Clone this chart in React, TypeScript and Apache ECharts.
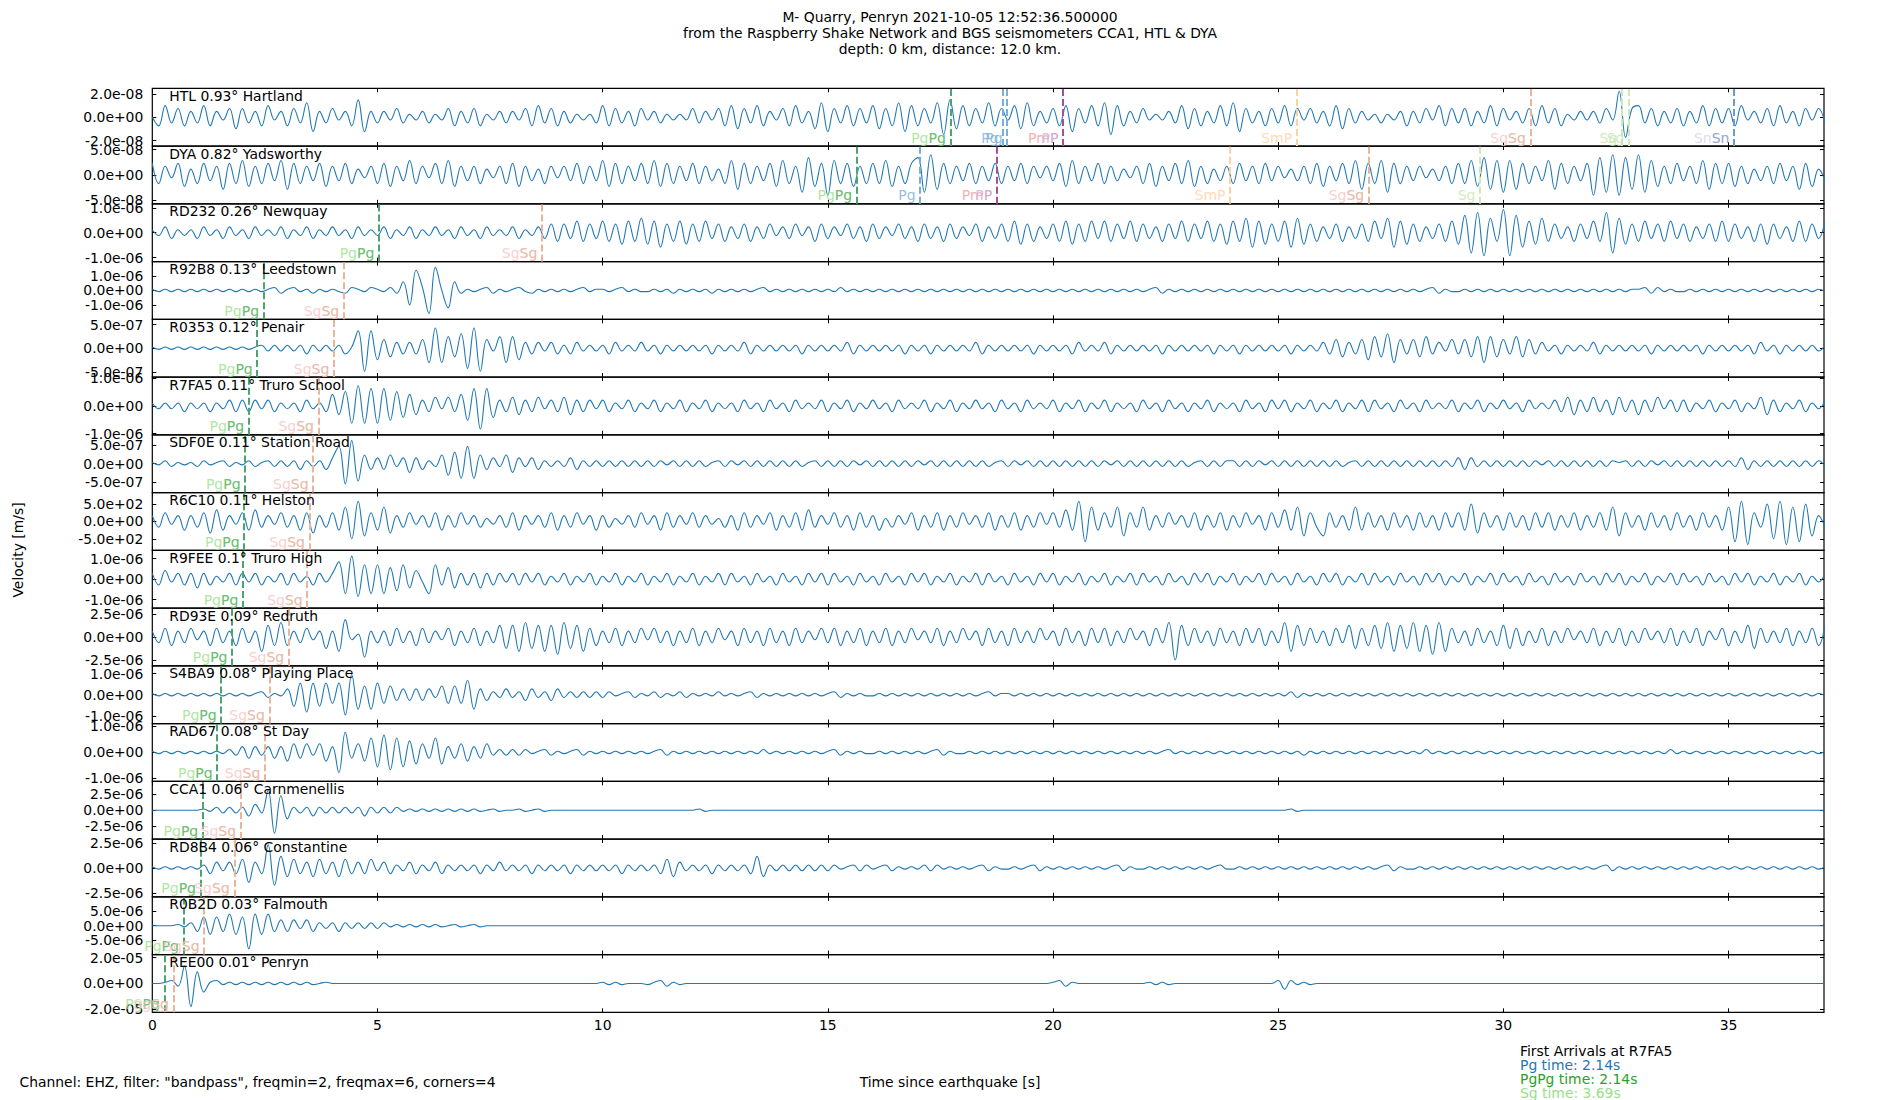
import React, { useEffect, useRef } from "react";
import * as echarts from "echarts";

// ---------------- DATA ----------------
const stationCodes = ["HTL", "DYA", "RD232", "R92B8", "R0353", "R7FA5", "SDF0E", "R6C10", "R9FEE", "RD93E", "S4BA9", "RAD67", "CCA1", "RD8B4", "R0B2D", "REE00"];
const stationDistances = ["0.93", "0.82", "0.26", "0.13", "0.12", "0.11", "0.11", "0.11", "0.1", "0.09", "0.08", "0.08", "0.06", "0.06", "0.03", "0.01"];
const stationPlaces = ["Hartland", "Yadsworthy", "Newquay", "Leedstown", "Penair", "Truro School", "Station Road", "Helston", "Truro High", "Redruth", "Playing Place", "St Day", "Carnmenellis", "Constantine", "Falmouth", "Penryn"];
// labelled y tick value of each panel
const tickValues = [2e-8, 5e-8, 1e-6, 1e-6, 5e-7, 1e-6, 5e-7, 500, 1e-6, 2.5e-6, 1e-6, 1e-6, 2.5e-6, 2.5e-6, 5e-6, 2e-5];
// y limit of each panel as a multiple of its tick value
const axisLimitRatio = [1.235, 1.14, 1.16, 1.99, 1.22, 1.04, 1.54, 1.65, 1.41, 1.26, 1.37, 1.11, 1.84, 1.16, 1.99, 1.12];
const xTicks = [0, 5, 10, 15, 20, 25, 30, 35];
const timeMax = 37.12;
const sampleInterval = 1 / 7; // seconds between samples of the traces below

// traces: one char per sample, level in tenths of the panel limit
// '0'-'9' => 0..9, 'a'-'i' => -1..-9, '+' => 0.4, '-' => -0.4
const traceHTL = `
0c4b3c2 b4c2a3d 3b2c4a2 c3b5e2b 3a2c6e2 b2a3b1a 2b1a3c2 b3c1a2b 2a3c4b3 c2b1a1b
4c3b2c3 a2b1a1a 3b2a3c4 d3b4c2a 3c4b2d5 e3b4c3b 4d3c5e4 c3b5f6d 4c3b5c3 a4d5c2b
3c4e3b4 c5f4c2b 3a1a2b4 d3c2b4c 5e3b2c3 b4c3a3b 2c4d3b2 a1b1a2c 2b3a4c3 b3c2b4c
3a2b3c4 b3c1a2a 2b3a9g3 4b3c2b3 c2b4c3b 3c4a2b3 c4b2c3a 3b`;
const traceDYA = `
4c3a4d2 c4b3e4c 5d3c4b5 e4c3b4d 3b4c2a3 c4d3b5c 3a4c5d3 b3c2a3c 4d3b2c3 a3b4c3b
5d4c3b4 c5d4c3b 4c3b2c5 e4c3b4d 5c3f6d4 g5c4d3c 4c5d3c4 6f7e4c3 b4c3b4c 3b4c3a3
b4d5c3b 4c3b2a3 c4d3b4c 5d3c2b3 c4b3c4b 3a2b3c4 d3b4c5e 4c5f4c3 b3a2b3c 4c5d6e5
f5e4c3b 5e4c3b4 g6f7g6e 7f5d3c4 b3c5e4c 4d3c2b3 c4b3e4d 2b`;
const traceRD232 = `
1a2b1a1 b2a1b2a 1b2a1a2 b1a2b1a 2a1b2a1 a2b1a2b 1a2a1b2 a1b2a1a 2b1a2b3 c3b4c3b
4c3d4c5 d4e3c4d 3c4b3c2 b3c2b3a 2b3a2c3 b2a3b2c 3b2a3b2 c3b2c3b 2a3c2b3 c4d3c2b
3c4d3c4 b4c3b4c 3b2c3b4 c3b4c3d 4c5e4d3 c4e5d3c 2b3c2b3 c4b5e4d 3c2b3c4 d6g7h5c
8h6e4d5 c3b2c3b 4c7g5d3 c4b3c4b 3c2b3c4 c3b2c3d 3b2c4c3 b4`;
const traceR92B8 = `
+-+-+-+ -+-+-+- +-+-+1a +1-+a+- +-a1+-1 +-1a3e7 1h80f3a +-+1a+- +1-a+-+ -+-+1-+
+-+1-+- -+-+a+- +-+a+-+ -+-+1-+ -+-+-+- +-1-+-+ -+-+-+- +-+-+-+ -+-+-+- +-+-+-+
-+-+-+- +-+-+-+ -+1a+-+ -+-+-+- +-+-+-+ -+-+-+- +-+-+-+ -+-+-+- +-+1a+- -+-+-+-
+-+-+-+ -+-+-+- +-+-+-+ +1a1-+- -+-+-+- +-+-+-+ -+-+-+- +-`;
const traceR0353 = `
+-+-+-+ -+-+-+- +-+1a1a 1a1b1a1 a1b+6h6 d3c2b2b 3e7e4c5 g7h3a4e 4d2b2a2 b1b2a1a
1b2a1a2 a1b1a1a 1a1b1a1 a2b1a1a 1a1b1a1 a1a2b1a 1a1a1b1 a1b1a1a 1a2b1a1 a1a1b1a
1a1b2a1 a2b1a1a 1a1b1a1 a1a1b1a 1b1a1a1 a1b1a1a 2b3c2b3 d4c5e3b 3c4b2a3 b3c4e4c
3b4c3b2 a1b1a1a 2b1a1a1 a1b1a1a 1a1b1a1 a1a1b2a 1b1a1a1 a1`;
const traceR7FA5 = `
1a1a1b1 a1b1a2b 2b2a2b1 a1b2a1b 4c5f7f6 f6e5d4c 2b3a3b4 e6h6d2b 3c2b3a2 b3c2b2a
2b1a2b1 a2b1a2b 1a2b1a1 b2a1b2a 1b2a1a2 b1a2b1a 2a1b2a1 a2b1a2b 1a2a1b2 a1b2a1a
2b1a2b1 a2b1a1b 2a1b2a1 b1a2b1a 1b2a1b2 a2b1a2b 1a2b1a2 b2a1b2a 1b2a1a2 b1a2b1a
2a1b2a1 a2b3c2b 3b2c3b2 c2b3a2b 2b1a2b1 a2b1a3c 2b1a2b1 a2`;
const traceSDF0E = `
+-1a+-+ a1-+1a+ -1a+1a1 a1b1a1b 26g8f3b 2b3a2c2 b1a3d4e 6e3b2a3 c2a2b1a 1a2b1a1
a1a1a1a 1a1-1a1 a1a+1a1 -1a1a1a 1a1a+1a 1a1a1-1 a1a1a1a 1-1a1a1 a1a1a+1 a1-1a1a
1a1a1a1 a1-1a1a 1a1a1a1 a+1a1a1 1a1a1-1 a1a1a1a 1a1a+1a 1a1a1a1 a1a1a1a 2b2a1a1
a1a1a1- 1a1a1a1 a1a1+1a 1a1-1a1 a1a1a1a 1a2b1a1 a1a1a1a 1a`;
const traceR6C10 = `
2b3a2c2 b3d4c2a 3c4b2a3 b2c3d2b 3c5f7e3 c5d2b3a 2b3c2b3 a2b1a2b 3c2a2b3 c2b3a2c
2b1a2b3 a2c3b2a 3b2a1b2 c3b2a3c 2b3c4b2 a3b2c3b 2c1b2a3 c2b3c2b 3a2b3c2 b3c2b3a
3b4c7g5 c3b5e3b 5c2b3a2 b3c2b3c 2b3a2c3 b4c5e3b e3b2c5c 3b2c3b2 c3b2c3b 3c6d3b2
c3b2c3b 3c2b3c2 b3c5e3b 2c3b2c3 b2c3b2c 5g7h3b6 f7h5g6e 2b`;
const traceR9FEE = `
2b3a2b2 c2b1a2b 2a2b1a2 b2a1b2a 26e8f5e 5e4d5c3 ae5b4c2 b2c2b2a 2b2a2b1 a2b1a2b
1a2b1a2 b1a2b1a 2b1a2b2 a1b2a1b 2a1b2a2 b2a1b2a 1b2a1b2 a2b1a2b 1a2b2a1 b2a1b2a
2b1a2b1 a2b1a2b 2a1b2a1 b2a2b1a 2b1a2b2 a1b2a1b 2a2b1a2 b2a1b2a 1b2a2b1 a2b1a2b
2a1b2a1 b2a1b2a 1b2a2b1 a2b1a2b 2a1b2a1 b2a2b1a 2b1a2b1 a2`;
const traceRD93E = `
2b3c2b3 a2c3b2c 3b2e4c5 c2b3a2d 2e6a1g2 b2c3b2c 3b2a3c2 b3c2b4d 4e5d4e4 f5d4e3c
2b3c2b3 a3b2c2b 3c2b3a2 c3b2c3b 2c3b2a3 b3c2b3c 2b3c2b3 a2b3c2b 3a2c3b2 c3b2b3a
2c3b2c3 b3c2b3a 2c3b5h4 c3b2c3b 2c3b3c2 b5e4c3b 2c3b4d3 c4d5e4d 5e4f5e3 b2c3b2c
4d3c2b3 c2b3a2b 3c2b3c2 b3a2b3c 2b3c2a3 c2b4d3b 2b3c2b3 c4`;
const traceS4BA9 = `
+-+-+-+ -+-+-+- +-+1a+- 2d4f4d4 c4g7e3e 4c3b2b2 b2a3c3c 5e2b1a2 a1b2a1b 2a1a1a1
a1-+1a+ -1a+-1a +-+-1-+ -+1a+-+ -+-+-+- +1a+-+- -+-+-+- +-+-+-+ -+-+1-+ +-+-+-+
-+-+-+- +-+-+-+ -+-+-+- +-+-+-+ -+-+-+- +-1a+-+ -+-+-+- +-+-+-+ -+-+-+- +-+-+-+
-+-+-+- +-+-+-+ -+-+-+- +-+-+-+ -+-+-+- +-+-+-+ -+-+-+- +-`;
const traceRAD67 = `
+-+-+-+ -+-+-1a 2b2a2b2 c3b3a3c 2g7b3c5 e6f5e4d 3b5d2b3 c2b3a1a 1a1-+1a +-+1a+-
+-+-+-+ -+1a+-+ -+-+-+- +-+-1-+ -+-+-+- +1a+-+- -+-+-+- +-+1a+- -+-+-+- +-+-+-+
-+-+-+- +-+-+-+ -+-+1-+ -+-+-+- +-+-+-+ -+-+a+- +-+-+-+ -+-+-+- +-1-+-+ -+-+-+-
+-+-+-+ -+-+-+- +-+-+-+ -+-+-1- +-+-+-+ -+-+-+- +-+-+-+ -+`;
const traceCCA1 = `
0000000 0+-1a1a 1b2a7h5 c1a1b1a 1a1a1b1 a1a1-+- +-+-+-+ -+-0+-0 0+-0+-0 0000000
0000000 0000000 0+-0000 0000000 0000000 0000000 0000000 0000000 0000000 0000000
0000000 0000000 0000000 0000000 0000000 00+-000 0000000 0000000 0000000 0000000
0000000 0000000 0000000 0000000 0000000 0000000 0000000 00`;
const traceRD8B4 = `
+-+-+-+ -1b2a2b 3e2b8f4 c3b2c3b 2c3b2b3 a2b1a2b 1a2b1a1 a1b1a2a 1a1b1a1 a1b1a1a
1a1b1a1 a1b3c2a 1a1b1a1 a1b4c1a 1a1a1a1 a1-+1a1 -+1a+-+ -1a1-+- +-+1a+- -+-+1a+
-+-+-+- +-+1a+- -+-+-+- +-+-+1- -+-+-+- +-+-+-+ -+-+-+- +-+1a+- -+-+-+- +-+-+-+
-+-+-+- +-+-+-+ -+1a+-+ -+-+-+- +-+-+-+ -+-+-+- +-+-+-+ -+`;
const traceR0B2D = `
0000+-1 b3c3b4c 3h4c4b2 b2a2b1a 1b1a1a1 a1-+-+- +-+-0+- 0+-0000 0000000 0000000
0000000 0000000 0000000 0000000 0000000 0000000 0000000 0000000 0000000 0000000
0000000 0000000 0000000 0000000 0000000 0000000 0000000 0000000 0000000 0000000
0000000 0000000 0000000 0000000 0000000 0000000 0000000 00`;
const traceREE00 = `
00+1a6h 4c+1-+- +-+-+-+ -+-+-0+ 0000000 0000000 0000000 0000000 0000000 0000000
+-+-000 -+1a+-0 0000000 0000000 0000000 0000000 0000000 0000000 0000000 0000000
+1a+000 0000000 0+-+-00 0000000 0000000 1b1-+-0 0000000 0000000 0000000 0000000
0000000 0000000 0000000 0000000 0000000 0000000 0000000 00`;
const traces = [traceHTL, traceDYA, traceRD232, traceR92B8, traceR0353, traceR7FA5, traceSDF0E, traceR6C10, traceR9FEE, traceRD93E, traceS4BA9, traceRAD67, traceCCA1, traceRD8B4, traceR0B2D, traceREE00];

// arrivals per panel (phase, time in s)
const arrivalPhases = [
  ["PgPg", "Pg", "Pg", "PmP", "SmP", "SgSg", "Sg", "Sg", "Sn"],
  ["PgPg", "Pg", "PmP", "SmP", "SgSg", "Sg"],
  ["PgPg", "SgSg"], ["PgPg", "SgSg"], ["PgPg", "SgSg"], ["PgPg", "SgSg"], ["PgPg", "SgSg"], ["PgPg", "SgSg"],
  ["PgPg", "SgSg"], ["PgPg", "SgSg"], ["PgPg", "SgSg"], ["PgPg", "SgSg"], ["PgPg", "SgSg"], ["PgPg", "SgSg"],
  ["PgPg", "SgSg"], ["PgPg", "SgSg"],
];
const arrivalTimes = [
  [17.72, 18.89, 18.98, 20.22, 25.41, 30.6, 32.63, 32.79, 35.12],
  [15.64, 17.05, 18.75, 23.93, 27.01, 29.48],
  [5.03, 8.65], [2.47, 4.25], [2.33, 4.03], [2.14, 3.69], [2.06, 3.57], [2.04, 3.49],
  [2.01, 3.44], [1.77, 3.03], [1.53, 2.6], [1.44, 2.5], [1.12, 1.96], [1.07, 1.82],
  [0.69, 1.15], [0.27, 0.47],
];

const titleLines = [
  "M- Quarry, Penryn 2021-10-05 12:52:36.500000",
  "from the Raspberry Shake Network and BGS seismometers CCA1, HTL & DYA",
  "depth: 0 km, distance: 12.0 km.",
];
const footNote = 'Channel: EHZ, filter: "bandpass", freqmin=2, freqmax=6, corners=4';
const xAxisTitle = "Time since earthquake [s]";
const yAxisTitle = "Velocity [m/s]";
const legendLines = ["First Arrivals at R7FA5", "Pg time: 2.14s", "PgPg time: 2.14s", "Sg time: 3.69s"];

// ---------------- STYLE ----------------
const FONT = "DejaVu Sans";
const TRACE_COLOR = "#1f77b4";
const legendColors = ["#000000", "#1f77b4", "#2ca02c", "#98df8a"];
const phaseStyles: Record<string, { line: string; labels: [string, string][] }> = {
  PgPg: { line: "#4ca56e", labels: [["PgPg", "#98df8a"], ["Pg", "#5fb36b"]] },
  SgSg: { line: "#e9b59b", labels: [["SgSg", "#f9c2c2"], ["Sg", "#e4b89f"]] },
  Pg: { line: "#7aaedb", labels: [["Pg", "#7aaedb"]] },
  PmP: { line: "#a8508f", labels: [["PmP", "#f59a9a"], ["PP", "#c7b1dc"]] },
  SmP: { line: "#ffd1a0", labels: [["SmP", "#ffd1a0"]] },
  Sg: { line: "#cde9b5", labels: [["Sg", "#c5e5ac"]] },
  Sn: { line: "#6b9bd0", labels: [["SnSn", "#dcd0ea"], ["Sn", "#7d9dcb"]] },
};

const W = 1900;
const H = 1100;
const PLOT_LEFT = 152.3;
const PLOT_RIGHT = 1824;
const PLOT_TOP = 88.3;
const PANEL_H = 57.75;

const levelOf = (ch: string): number => {
  if (ch >= "0" && ch <= "9") return ch.charCodeAt(0) - 48;
  if (ch === "+") return 0.4;
  if (ch === "-") return -0.4;
  return -(ch.charCodeAt(0) - 96);
};

const fmtExp = (v: number): string =>
  v.toExponential(1).replace(/e([+-])(\d)$/, (_m: string, s: string, d: string) => "e" + s + "0" + d);

function buildOption() {
  const grids: any[] = [];
  const xAxes: any[] = [];
  const yAxes: any[] = [];
  const series: any[] = [];
  const graphics: any[] = [];
  const n = stationCodes.length;

  for (let i = 0; i < n; i++) {
    const top = PLOT_TOP + i * PANEL_H;
    const isLast = i === n - 1;
    const tick = tickValues[i];
    const lim = tick * axisLimitRatio[i];
    grids.push({
      left: PLOT_LEFT,
      top,
      width: PLOT_RIGHT - PLOT_LEFT,
      height: PANEL_H,
      show: true,
      borderColor: "#000",
      borderWidth: 1.2,
      backgroundColor: "transparent",
    });
    const xCommon = {
      type: "value",
      gridIndex: i,
      min: 0,
      max: timeMax,
      splitLine: { show: false },
      axisLine: { show: false, onZero: false },
      axisTick: { show: true, inside: true, length: 4, customValues: xTicks, lineStyle: { color: "#000", width: 1 } },
    };
    xAxes.push({
      ...xCommon,
      position: "bottom",
      axisLabel: { show: isLast, customValues: xTicks, color: "#000", fontSize: 13.9, fontFamily: FONT, margin: 6 },
    });
    xAxes.push({ ...xCommon, position: "top", axisLabel: { show: false } });
    const yVals = [-tick, 0, tick];
    const yCommon = {
      type: "value",
      gridIndex: i,
      min: -lim,
      max: lim,
      splitLine: { show: false },
      axisLine: { show: false, onZero: false },
      axisTick: { show: true, inside: true, length: 4, customValues: yVals, lineStyle: { color: "#000", width: 1 } },
    };
    yAxes.push({
      ...yCommon,
      position: "left",
      axisLabel: { show: true, customValues: yVals, formatter: fmtExp, color: "#000", fontSize: 13.9, fontFamily: FONT, margin: 9 },
    });
    yAxes.push({ ...yCommon, position: "right", axisLabel: { show: false } });

    const chars = traces[i].replace(/\s+/g, "").split("");
    const unit = lim / 10;
    const data = chars.map((ch, k) => [k * sampleInterval, levelOf(ch) * unit]);

    const phases = arrivalPhases[i];
    const times = arrivalTimes[i];
    const markData = phases.map((p, j) => ({
      xAxis: times[j],
      lineStyle: { color: phaseStyles[p].line, width: 2, type: [7, 3], opacity: 1 },
    }));
    const labelY = -0.707 * lim;
    const labelData: any[] = [];
    phases.forEach((p, j) => {
      phaseStyles[p].labels.forEach(([txt, col]) => {
        labelData.push({
          value: [times[j], labelY],
          label: { show: true, formatter: txt, color: col, position: "left", distance: 4, fontSize: 14, fontFamily: FONT },
        });
      });
    });

    series.push({
      type: "line",
      xAxisIndex: 2 * i,
      yAxisIndex: 2 * i,
      data,
      showSymbol: false,
      symbol: "none",
      smooth: 0.4,
      clip: true,
      lineStyle: { color: TRACE_COLOR, width: 1.1 },
      z: 3,
      markLine: {
        silent: true,
        symbol: ["none", "none"],
        label: { show: false },
        data: markData,
        z: 4,
      },
    });
    series.push({
      type: "scatter",
      xAxisIndex: 2 * i,
      yAxisIndex: 2 * i,
      data: labelData,
      symbol: "circle",
      symbolSize: 1,
      itemStyle: { color: "rgba(0,0,0,0)" },
      silent: true,
      z: 5,
    });

    graphics.push({
      type: "text",
      x: PLOT_LEFT + 17,
      y: top + 7.6,
      z: 10,
      style: {
        text: `${stationCodes[i]} ${stationDistances[i]}° ${stationPlaces[i]}`,
        fill: "#000",
        fontSize: 13.9,
        fontFamily: FONT,
        align: "left",
        textAlign: "left",
        verticalAlign: "middle",
        textVerticalAlign: "middle",
      },
    });
  }

  const titleY = [16.7, 33.3, 49];
  titleLines.forEach((t, k) => {
    graphics.push({
      type: "text",
      x: W / 2,
      y: titleY[k],
      style: { text: t, fill: "#000", fontSize: 13.9, fontFamily: FONT, align: "center", textAlign: "center", verticalAlign: "middle", textVerticalAlign: "middle" },
    });
  });
  graphics.push({
    type: "text",
    x: 19.5,
    y: 1082,
    style: { text: footNote, fill: "#000", fontSize: 13.9, fontFamily: FONT, align: "left", textAlign: "left", verticalAlign: "middle", textVerticalAlign: "middle" },
  });
  graphics.push({
    type: "text",
    x: 950,
    y: 1082,
    style: { text: xAxisTitle, fill: "#000", fontSize: 13.9, fontFamily: FONT, align: "center", textAlign: "center", verticalAlign: "middle", textVerticalAlign: "middle" },
  });
  graphics.push({
    type: "text",
    x: 18,
    y: 550,
    rotation: Math.PI / 2,
    style: { text: yAxisTitle, fill: "#000", fontSize: 13.9, fontFamily: FONT, align: "center", textAlign: "center", verticalAlign: "middle", textVerticalAlign: "middle" },
  });
  const legendY = [1050.7, 1065, 1078.5, 1092.7];
  legendLines.forEach((t, k) => {
    graphics.push({
      type: "text",
      x: 1520,
      y: legendY[k],
      style: { text: t, fill: legendColors[k], fontSize: 13.9, fontFamily: FONT, align: "left", textAlign: "left", verticalAlign: "middle", textVerticalAlign: "middle" },
    });
  });

  return {
    animation: false,
    backgroundColor: "#fff",
    textStyle: { fontFamily: FONT },
    grid: grids,
    xAxis: xAxes,
    yAxis: yAxes,
    series,
    graphic: graphics,
  };
}

export default function App() {
  const ref = useRef<HTMLDivElement>(null);
  useEffect(() => {
    document.body.style.margin = "0";
    if (!ref.current) return;
    const chart = echarts.init(ref.current, null, { renderer: "svg", width: W, height: H });
    chart.setOption(buildOption() as any);
    return () => chart.dispose();
  }, []);
  return <div ref={ref} style={{ width: W, height: H }} />;
}
